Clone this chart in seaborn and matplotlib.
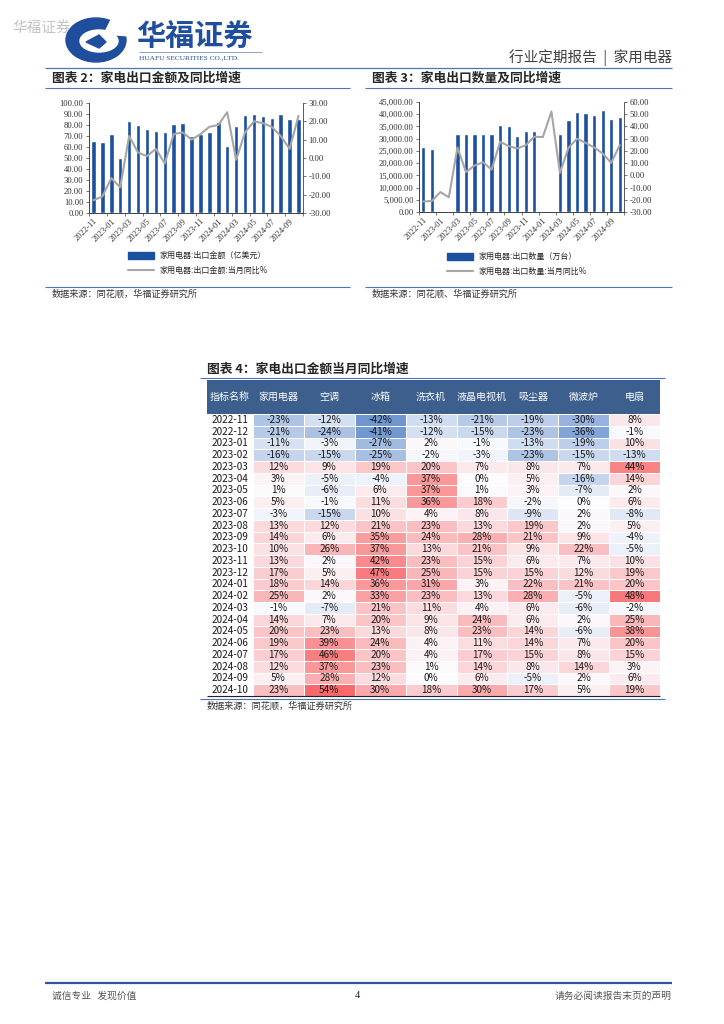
import numpy as np
import pandas as pd
import matplotlib
matplotlib.use("Agg")
import matplotlib.pyplot as plt
import seaborn as sns
from matplotlib.colors import LinearSegmentedColormap, TwoSlopeNorm
from matplotlib.patches import Rectangle, Ellipse, Polygon
from matplotlib.lines import Line2D

# ---------------- data ----------------
months = ["2022-11", "2022-12", "2023-01", "2023-02", "2023-03", "2023-04",
          "2023-05", "2023-06", "2023-07", "2023-08", "2023-09", "2023-10",
          "2023-11", "2023-12", "2024-01", "2024-02", "2024-03", "2024-04",
          "2024-05", "2024-06", "2024-07", "2024-08", "2024-09", "2024-10"]

export_value = [65.2, 65.0, 72.1, 50.3, 83.6, 80.3, 76.4, 74.8, 73.6, 80.6, 82.1, 70.3,
                72.0, 73.6, 83.0, 60.9, 79.4, 89.0, 90.3, 88.5, 86.4, 90.3, 85.8, 85.8]
export_value_yoy = [-23, -21, -11, -16, 12, 3, 1, 5, -3, 13, 14, 10,
                    13, 17, 18, 25, -1, 14, 20, 19, 17, 12, 5, 23]

nan = np.nan
export_qty = [26600, 25600, nan, nan, 32000, 32000, 32000, 32000, 32000, 35700, 35300, 31100,
              33200, 33200, nan, nan, 32000, 37700, 40900, 40300, 39600, 41800, 38100, 38800]
export_qty_yoy = [-21.4, -21.0, -13.7, -17.9, 22.8, 2.7, 8.0, 10.7, 4.7, 27.5, 23.9, 22.0,
                  24.7, 31.6, 31.3, 52.2, 2.0, 22.5, 30.0, 26.6, 22.8, 17.9, 10.2, 24.7]

table_cols = ["家用电器", "空调", "冰箱", "洗衣机", "液晶电视机", "吸尘器", "微波炉", "电扇"]
yoy_home = [-23, -21, -11, -16, 12, 3, 1, 5, -3, 13, 14, 10, 13, 17, 18, 25, -1, 14, 20, 19, 17, 12, 5, 23]
yoy_ac = [-12, -24, -3, -15, 9, -5, -6, -1, -15, 12, 6, 26, 2, 5, 14, 2, -7, 7, 23, 39, 46, 37, 28, 54]
yoy_fridge = [-42, -41, -27, -25, 19, -4, 6, 11, 10, 21, 35, 37, 42, 47, 36, 33, 21, 20, 13, 24, 20, 23, 12, 30]
yoy_washer = [-13, -12, 2, -2, 20, 37, 37, 36, 4, 23, 24, 13, 23, 25, 31, 23, 11, 9, 8, 4, 4, 1, 0, 18]
yoy_tv = [-21, -15, -1, -3, 7, 0, 1, 18, 8, 13, 28, 21, 15, 15, 3, 13, 4, 24, 23, 11, 17, 14, 6, 30]
yoy_vacuum = [-19, -23, -13, -23, 8, 5, 3, -2, -9, 19, 21, 9, 6, 15, 22, 28, 6, 6, 14, 14, 15, 8, -5, 17]
yoy_microwave = [-30, -36, -19, -15, 7, -16, -7, 0, 2, 2, 9, 22, 7, 12, 21, -5, -6, 2, -6, 7, 8, 14, 2, 5]
yoy_fan = [8, -1, 10, -13, 44, 14, 2, 6, -8, 5, -4, -5, 10, 19, 20, 48, -2, 25, 38, 20, 15, 3, 6, 19]

value_left_ticks = [0, 10, 20, 30, 40, 50, 60, 70, 80, 90, 100]
value_right_ticks = [-30, -20, -10, 0, 10, 20, 30]
qty_left_ticks = [0, 5000, 10000, 15000, 20000, 25000, 30000, 35000, 40000, 45000]
qty_right_ticks = [-30, -20, -10, 0, 10, 20, 30, 40, 50, 60]

# ---------------- style ----------------
sns.set_theme(style="ticks")
plt.rcParams["font.family"] = ["Noto Sans CJK SC", "DejaVu Sans"]
plt.rcParams["axes.unicode_minus"] = False

BAR = "#1b4f9f"
LINE = "#a6a6a6"
BLUE = "#1f4e9c"
RULE = "#4a74bf"
SERIF = ["Liberation Serif", "DejaVu Serif"]

W, H = 724, 1024
fig = plt.figure(figsize=(W / 100, H / 100), dpi=100)
fig.patch.set_facecolor("white")


def fx(x):
    return x / W


def fy(y):
    return 1 - y / H


def axes_px(l, t, r, b):
    return fig.add_axes([l / W, 1 - b / H, (r - l) / W, (b - t) / H])


def hline(x0, x1, y, color=RULE, lw=0.8):
    fig.add_artist(Line2D([fx(x0), fx(x1)], [fy(y), fy(y)], transform=fig.transFigure,
                          color=color, lw=lw, solid_capstyle="butt"))


def ftext(x, y, s, **kw):
    fig.text(fx(x), fy(y), s, **kw)


# ---------------- page header ----------------
ftext(12, 28, "华福证券", fontsize=10.5, color="#c4c4c4", va="center")
fig.add_artist(Ellipse((fx(96), fy(40)), 60 / W, 44 / H, transform=fig.transFigure, color=BLUE))
fig.add_artist(Ellipse((fx(99), fy(41)), 38 / W, 22 / H, transform=fig.transFigure, color="white"))
fig.add_artist(Polygon([(fx(112), fy(18)), (fx(130), fy(18)), (fx(130), fy(36)), (fx(104), fy(34))],
                       closed=True, transform=fig.transFigure, color="white"))
fig.add_artist(Polygon([(fx(86), fy(42)), (fx(99), fy(35)), (fx(106), fy(42)), (fx(99), fy(48))],
                       closed=True, transform=fig.transFigure, color=BLUE))
ftext(136, 36, "华福证券", fontsize=21, fontweight="bold", color=BLUE, va="center")
hline(139, 262, 52, color="#7f93b8", lw=0.6)
ftext(139, 58, "HUAFU SECURITIES CO.,LTD.", fontsize=5.3, family=SERIF, color=BLUE, va="center")
ftext(672, 58, "行业定期报告  |  家用电器", fontsize=10.5, color="#404040", ha="right", va="center")
hline(45, 672, 68, lw=0.9)

# ---------------- chart helper ----------------
def draw_chart(l, t, r, b, bars, yoy, lt, lfmt, rt, bar_label, line_label, leg_x, leg_y):
    ax = axes_px(l, t, r, b)
    df = pd.DataFrame({"month": months, "value": bars})
    sns.barplot(data=df, x="month", y="value", order=months, color=BAR, saturation=1,
                width=0.5, ax=ax)
    ax2 = ax.twinx()
    sns.lineplot(x=np.arange(len(months)), y=yoy, ax=ax2, color=LINE, linewidth=1.5,
                 legend=False)
    ax.set_xlim(-0.5, len(months) - 0.5)
    ax.set_ylim(lt[0], lt[-1])
    ax2.set_ylim(rt[0], rt[-1])
    ax.set_xlabel("")
    ax.set_ylabel("")
    ax2.set_ylabel("")
    ax.set_yticks(lt)
    ax.set_yticklabels([lfmt(v) for v in lt], fontsize=6.2, family=SERIF, color="#333333")
    ax2.set_yticks(rt)
    ax2.set_yticklabels([f"{v:.2f}" for v in rt], fontsize=6.2, family=SERIF, color="#333333")
    ax.set_xticks(np.arange(0, len(months), 2))
    ax.set_xticklabels(months[::2], rotation=45, ha="right", rotation_mode="anchor",
                       fontsize=6.2, family=SERIF, color="#333333")
    ax.set_xticks(np.arange(-0.5, len(months), 2), minor=True)
    ax.tick_params(axis="x", which="major", length=0, pad=3)
    ax.tick_params(axis="x", which="minor", length=2.5, width=0.5, direction="out",
                   color="#404040", bottom=True)
    ax.tick_params(axis="y", length=2.5, width=0.5, direction="out", pad=1.5,
                   color="#404040", left=True)
    ax2.tick_params(axis="y", length=2.5, width=0.5, direction="out", pad=1.5,
                    color="#404040", right=True)
    for a in (ax, ax2):
        a.spines["top"].set_visible(False)
        for s in ("left", "right", "bottom"):
            a.spines[s].set_color("#404040")
            a.spines[s].set_linewidth(0.6)
    ax.spines["right"].set_visible(False)
    handles = [Rectangle((0, 0), 1, 1, color=BAR),
               Line2D([0], [0], color=LINE, lw=1.5)]
    fig.legend(handles, [bar_label, line_label], loc="upper left",
               bbox_to_anchor=(fx(leg_x), fy(leg_y)), frameon=False, fontsize=5.8,
               handlelength=3.2, handleheight=0.9, labelspacing=0.7,
               handletextpad=0.7, borderaxespad=0, borderpad=0)
    return ax, ax2


# chart 2
ftext(52, 78, "图表 2：家电出口金额及同比增速", fontsize=9.2, fontweight="bold", va="center")
hline(45, 350, 88)
draw_chart(89, 103, 303, 213, export_value, export_value_yoy, value_left_ticks,
           lambda v: f"{v:.2f}", value_right_ticks,
           "家用电器:出口金额（亿美元）", "家用电器:出口金额:当月同比%", 128, 251)
hline(45, 350, 287)
ftext(52, 294, "数据来源：同花顺，华福证券研究所", fontsize=6.6, color="#333333", va="center")

# chart 3
ftext(372, 78, "图表 3：家电出口数量及同比增速", fontsize=9.2, fontweight="bold", va="center")
hline(365, 672, 88)
draw_chart(419, 102, 624, 212, export_qty, export_qty_yoy, qty_left_ticks,
           lambda v: f"{v:,.2f}", qty_right_ticks,
           "家用电器:出口数量（万台）", "家用电器:出口数量:当月同比%", 447, 252)
hline(365, 672, 287)
ftext(372, 294, "数据来源：同花顺、华福证券研究所", fontsize=6.6, color="#333333", va="center")

# ---------------- table (heatmap) ----------------
ftext(207, 369, "图表 4：家电出口金额当月同比增速", fontsize=9.2, fontweight="bold", va="center")
hline(200, 665, 378)

tbl = pd.DataFrame({
    "家用电器": yoy_home, "空调": yoy_ac, "冰箱": yoy_fridge, "洗衣机": yoy_washer,
    "液晶电视机": yoy_tv, "吸尘器": yoy_vacuum, "微波炉": yoy_microwave, "电扇": yoy_fan,
}, index=months)[table_cols]

T_L, T_LBL, T_R, T_HTOP, T_TOP, T_BOT = 207, 253, 660, 380, 414, 696
row_h = (T_BOT - T_TOP) / len(months)
col_w = (T_R - T_LBL) / len(table_cols)

hax = axes_px(T_LBL, T_TOP, T_R, T_BOT)
vals = tbl.values
norm = TwoSlopeNorm(vmin=vals.min(), vcenter=0, vmax=vals.max())
cmap = LinearSegmentedColormap.from_list("excel_bwr", ["#6f96cf", "#FCFCFF", "#F8696B"])
annot = np.array([[f"{v}%" for v in row] for row in vals])
sns.heatmap(tbl, ax=hax, cmap=cmap, norm=norm, annot=annot, fmt="", cbar=False,
            annot_kws={"fontsize": 7.2, "color": "#1a1a1a"}, linewidths=0.4, linecolor="white")
hax.set_xticks([])
hax.set_yticks([])
hax.set_xlabel("")
hax.set_ylabel("")

fig.add_artist(Rectangle((fx(T_L), fy(T_TOP)), (T_R - T_L) / W, (T_TOP - T_HTOP) / H,
                         transform=fig.transFigure, color="#3d5f8e", lw=0))
hy = (T_HTOP + T_TOP) / 2
ftext((T_L + T_LBL) / 2, hy, "指标名称", fontsize=7.2, color="white", ha="center", va="center")
for j, c in enumerate(table_cols):
    ftext(T_LBL + col_w * (j + 0.5), hy, c, fontsize=7.2, color="white", ha="center", va="center")
for i, m in enumerate(months):
    ftext((T_L + T_LBL) / 2, T_TOP + row_h * (i + 0.5), m, fontsize=7.2, color="#1a1a1a",
          ha="center", va="center")
hline(T_L, T_R, T_BOT, color="#222222", lw=0.8)
hline(200, 665, 698.5)
ftext(207, 706, "数据来源：同花顺，华福证券研究所", fontsize=6.6, color="#333333", va="center")

# ---------------- footer ----------------
hline(45, 672, 983, color="#2f5597", lw=1.6)
ftext(52, 996, "诚信专业   发现价值", fontsize=7, color="#555555", va="center")
ftext(357, 996, "4", fontsize=7.5, family=SERIF, color="#222222", ha="center", va="center")
ftext(672, 996, "请务必阅读报告末页的声明", fontsize=7, color="#555555", ha="right", va="center")

fig.savefig("out.png", dpi=100, facecolor="white")
